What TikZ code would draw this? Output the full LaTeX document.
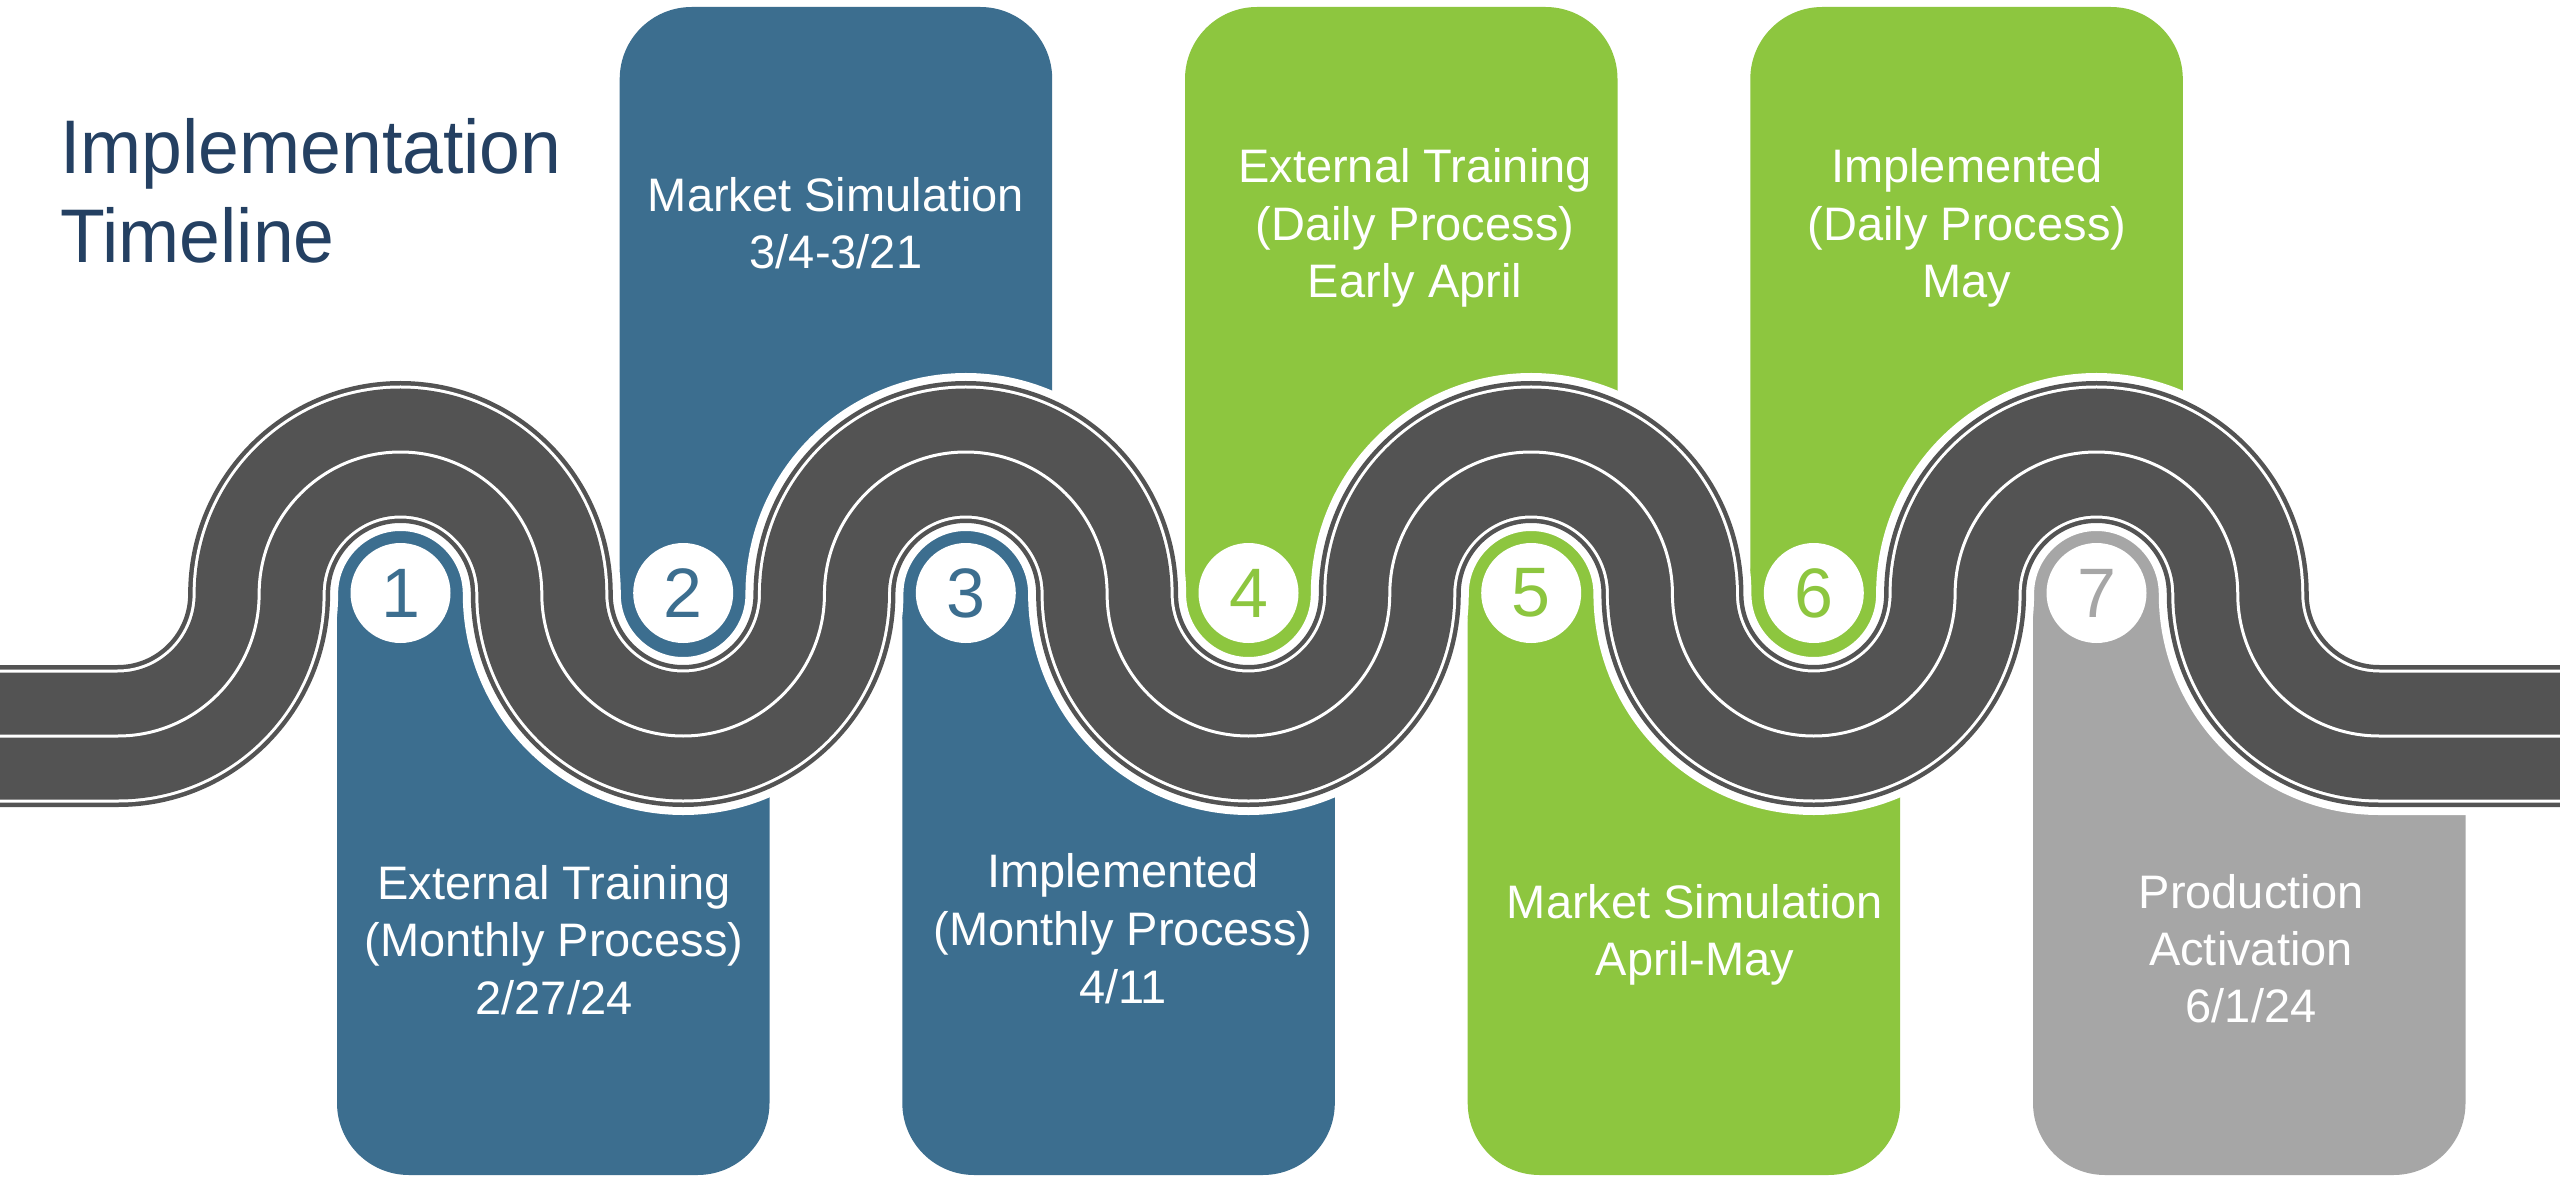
\documentclass[tikz,border=0pt]{standalone}
\usepackage{fontspec}
\usepackage{graphicx}
\setmainfont{Liberation Sans}
\definecolor{tlblue}{RGB}{60,110,143}
\definecolor{tlgreen}{RGB}{141,198,63}
\definecolor{tlgray}{RGB}{166,166,166}
\definecolor{roadgray}{RGB}{83,83,83}
\definecolor{titleblue}{RGB}{36,64,98}
\newcommand\tlbotbox[2]{%
  \fill[#2] (#1-63.5,594) -- (#1-63.5,1103) arc[start angle=180,end angle=90,radius=72]
    -- (#1+297,1175) arc[start angle=90,end angle=0,radius=72]
    -- (#1+369,740) -- (#1+141,740) -- (#1+141,594) -- cycle;
  \fill[#2] (#1,594) circle[radius=68];
}
\newcommand\tltopbox[2]{%
  \fill[#2] (#1-63.5,594) -- (#1-63.5,79) arc[start angle=180,end angle=270,radius=72]
    -- (#1+297,7) arc[start angle=270,end angle=360,radius=72]
    -- (#1+369,448) -- (#1+141,448) -- (#1+141,594) -- cycle;
  \fill[#2] (#1,594) circle[radius=68];
}
\begin{document}
\begin{tikzpicture}[x=1pt,y=-1pt,
  lbl/.style={text=white, font=\fontsize{47}{57}\selectfont, anchor=base, inner sep=0pt},
  badge/.style={circle, fill=white, minimum size=100pt, inner sep=0pt, font=\fontsize{70}{70}\selectfont},
  ttl/.style={text=titleblue, anchor=base west, inner sep=0pt, font=\fontsize{76}{90}\selectfont}]
\useasboundingbox (0,0) rectangle (2560,1182);
\fill[white] (0,0) rectangle (2560,1182);

% milestone boxes
\tlbotbox{400.5}{tlblue}
\tltopbox{683.2}{tlblue}
\tlbotbox{965.8}{tlblue}
\tltopbox{1248.5}{tlgreen}
\tlbotbox{1531.2}{tlgreen}
\tltopbox{1813.8}{tlgreen}
\tlbotbox{2096.5}{tlgray}

% road
\foreach \c/\w in {white/158, roadgray/142, white/133, roadgray/127, white/3} {
  \draw[\c, line width=\w pt] (0,736) -- (117.8,736)
    arc[start angle=90,end angle=0,x radius=141.33,y radius=142]
    arc[start angle=180,end angle=360,x radius=141.33,y radius=142]
    arc[start angle=180,end angle=0,x radius=141.33,y radius=142]
    arc[start angle=180,end angle=360,x radius=141.33,y radius=142]
    arc[start angle=180,end angle=0,x radius=141.33,y radius=142]
    arc[start angle=180,end angle=360,x radius=141.33,y radius=142]
    arc[start angle=180,end angle=0,x radius=141.33,y radius=142]
    arc[start angle=180,end angle=360,x radius=141.33,y radius=142]
    arc[start angle=180,end angle=90,x radius=141.33,y radius=142]
    -- (2560,736);
}

% badges
\node[badge, text=tlblue] (n1) at (400.5,593) {1};
\node[badge, text=tlblue] (n2) at (683.2,593) {2};
\node[badge, text=tlblue] (n3) at (965.8,593) {3};
\node[badge, text=tlgreen] (n4) at (1248.5,593) {4};
\node[badge, text=tlgreen] (n5) at (1531.2,593) {5};
\node[badge, text=tlgreen] (n6) at (1813.8,593) {6};
\node[badge, text=tlgray] (n7) at (2096.5,593) {7};

% title
\node[ttl] (t1) at (60,174) {\scalebox{0.965}[1]{Implementation}};
\node[ttl] (t2) at (60,263) {\scalebox{0.965}[1]{Timeline}};

% box texts
\node[lbl] (b1a) at (554,899) {External Training};
\node[lbl] (b1b) at (554,956.5) {(Monthly Process)};
\node[lbl] (b1c) at (554,1014) {2/27/24};

\node[lbl] (b2a) at (836,212) {Market Simulation};
\node[lbl] (b2b) at (836,269) {3/4-3/21};

\node[lbl] (b3a) at (1123,887) {Implemented};
\node[lbl] (b3b) at (1123,945) {(Monthly Process)};
\node[lbl] (b3c) at (1123,1003) {4/11};

\node[lbl] (b4a) at (1415,183) {External Training};
\node[lbl] (b4b) at (1415,240.5) {(Daily Process)};
\node[lbl] (b4c) at (1415,298) {Early April};

\node[lbl] (b5a) at (1695,918) {Market Simulation};
\node[lbl] (b5b) at (1695,975) {April-May};

\node[lbl] (b6a) at (1967,183) {Implemented};
\node[lbl] (b6b) at (1967,240.5) {(Daily Process)};
\node[lbl] (b6c) at (1967,298) {May};

\node[lbl] (b7a) at (2251,908.5) {Production};
\node[lbl] (b7b) at (2251,965.5) {Activation};
\node[lbl] (b7c) at (2251,1022) {6/1/24};
\end{tikzpicture}
\end{document}
